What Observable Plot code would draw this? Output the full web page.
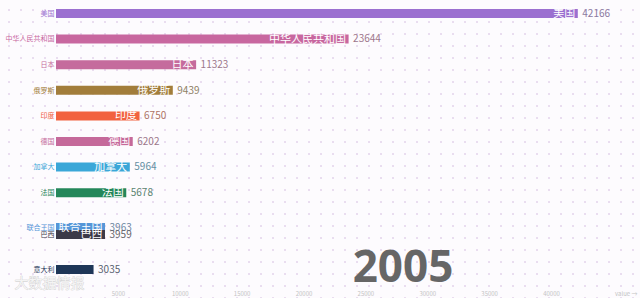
<!DOCTYPE html>
<html><head><meta charset="utf-8">
<script src="https://cdn.jsdelivr.net/npm/d3@7"></script>
<script src="https://cdn.jsdelivr.net/npm/@observablehq/plot@0.6"></script>
<style>
html,body{margin:0;padding:0;}
body{width:640px;height:298px;overflow:hidden;background-color:#fdfbfe;
background-image:radial-gradient(circle,#e9dcef 0.7px,transparent 1.1px);background-size:12px 12px;background-position:3px 4px;
font-family:"Noto Sans CJK SC","Noto Sans",sans-serif;}
</style></head><body>
<div id="chart"></div>
<script>
const year = "2005";
const countries = ["美国","中华人民共和国","日本","俄罗斯","印度","德国","加拿大","法国","联合王国","巴西","意大利"];
const values = [42166, 23644, 11323, 9439, 6750, 6202, 5964, 5678, 3963, 3959, 3035];
const ranks = [0, 1, 2, 3, 4, 5, 6, 7, 8.36, 8.63, 10];
const colors = ["#9b6fd0","#c8679f","#c56b9d","#a27d3b","#f2623f","#c5699a","#3ba7d8","#24875a","#5596d8","#3c3a48","#1e3657"];
const innerShown = [true, true, true, true, true, true, true, true, true, true, false];
const ticks = [5000,10000,15000,20000,25000,30000,35000,40000];

const data = countries.map((c,i)=>({country:c, value:values[i], rank:ranks[i], color:colors[i], inner: innerShown[i],
  vcolor: d3.interpolateRgb(colors[i], "#808080")(0.6)}));

const font = "'Noto Sans CJK SC','Noto Sans',sans-serif";
const chart = Plot.plot({
  width: 640, height: 298,
  marginLeft: 56, marginRight: 89, marginTop: 0, marginBottom: 8,
  style: {background: "transparent", fontFamily: font},
  x: {domain: [0, 40000], axis: null},
  y: {domain: [0, 10], range: [13, 269], axis: null},
  marks: [
    Plot.axisX({ticks, tickSize: 0, tickPadding: 1, fontSize: 6, color: "#c4c4c4", anchor: "bottom", tickFormat: d => String(d)}),
    Plot.ruleY(data, {y: "rank", x1: 0, x2: "value", stroke: "color", strokeWidth: 9}),
    Plot.text(data, {y: "rank", x: 0, text: "country", textAnchor: "end", dx: -2, fill: "color", fontSize: 7}),
    Plot.text(data.filter(d => d.inner), {y: "rank", x: "value", text: "country", textAnchor: "end", dx: -3, fill: "white", fontSize: 11}),
    Plot.text(data, {y: "rank", x: "value", text: d => String(d.value), textAnchor: "start", dx: 4, fill: "vcolor", fontSize: 10}),
    Plot.text([year], {text: d => d, frameAnchor: "bottom", dx: 99, dy: -9, lineAnchor: "bottom", fontSize: 44, fontWeight: "bold", fill: "#666", fontFamily: "'Open Sans','Noto Sans',sans-serif"}),
    Plot.text(["大数据情报"], {text: d => d, frameAnchor: "bottom-left", dx: -42, dy: -3, lineAnchor: "bottom", textAnchor: "start", fontSize: 14, fill: "#f4f4f4", stroke: "#c8c8c8", strokeWidth: 0.6})
  ]
});
document.getElementById("chart").appendChild(chart);
</script>
</body></html>
